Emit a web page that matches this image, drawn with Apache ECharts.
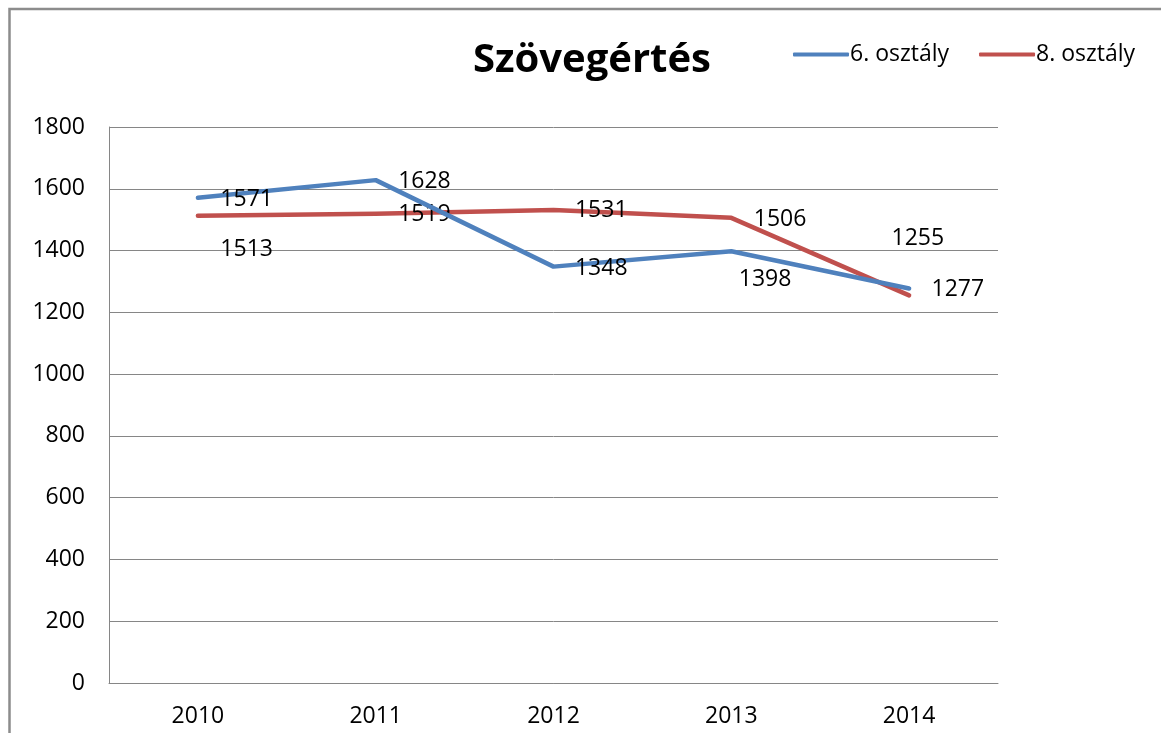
<!DOCTYPE html>
<html>
<head>
<meta charset="utf-8">
<script src="https://cdn.jsdelivr.net/npm/echarts@6/dist/echarts.min.js"></script>
<style>
html,body{margin:0;padding:0;background:#fff;}
#chart{width:1161px;height:733px;}
</style>
</head>
<body>
<div id="chart"></div>
<script>
const categories = ['2010', '2011', '2012', '2013', '2014'];
const grade6 = [1571, 1628, 1348, 1398, 1277];
const grade8 = [1513, 1519, 1531, 1506, 1255];
const seriesNames = ['6. osztály', '8. osztály'];
const titleText = 'Szövegértés';

// label placement relative to each point (style, not data)
const offsets6 = [[49, 2], [49, 2], [48, 2], [34, 29], [49, 1]];
const offsets8 = [[49, 34], [49, 1], [48, 1], [49, 2], [9, -57]];

const FONT = '"Open Sans", sans-serif';

function withLabels(values, offs) {
  return values.map((v, i) => ({
    value: v,
    label: { position: offs[i], align: 'center', verticalAlign: 'middle' }
  }));
}

const chart = echarts.init(document.getElementById('chart'), null, { renderer: 'canvas' });
chart.setOption({
  backgroundColor: '#fff',
  animation: false,
  title: {
    text: titleText,
    left: 587, top: 36, textAlign: 'center',
    textStyle: { fontFamily: FONT, fontSize: 40, fontWeight: 'bold', color: '#000' }
  },
  legend: {
    left: 788, top: 38,
    itemWidth: 56, itemHeight: 4, itemGap: 30,
    icon: 'roundRect',
    textStyle: { fontFamily: FONT, fontSize: 23, color: '#000', padding: [0, 0, 0, -4] },
    data: seriesNames
  },
  graphic: [{
    type: 'rect', silent: true,
    shape: { x: 9.5, y: 9, width: 1300, height: 900 },
    style: { fill: 'none', stroke: '#8c8c8c', lineWidth: 2.5 }
  }],
  grid: { left: 109, right: 163, top: 127, bottom: 50 },
  xAxis: {
    type: 'category', data: categories, boundaryGap: true,
    axisLine: { lineStyle: { color: '#868686', width: 1 } },
    axisTick: { show: false },
    axisLabel: { fontFamily: FONT, fontSize: 23, color: '#000', margin: 22 }
  },
  yAxis: {
    type: 'value', min: 0, max: 1800, interval: 200,
    axisLine: { show: true, lineStyle: { color: '#868686', width: 1 } },
    axisTick: { show: false },
    splitLine: { lineStyle: { color: '#868686', width: 1 } },
    axisLabel: { fontFamily: FONT, fontSize: 23, color: '#000', margin: 24, formatter: v => String(v) }
  },
  series: [
    {
      name: seriesNames[0], type: 'line', data: withLabels(grade6, offsets6),
      symbol: 'circle', symbolSize: 0.5, showSymbol: true,
      lineStyle: { color: '#4F81BD', width: 4.5, join: 'round', cap: 'round' },
      itemStyle: { color: '#4F81BD' },
      label: { show: true, fontFamily: FONT, fontSize: 23, color: '#000' },
      labelLayout: { hideOverlap: false },
      z: 3
    },
    {
      name: seriesNames[1], type: 'line', data: withLabels(grade8, offsets8),
      symbol: 'circle', symbolSize: 0.5, showSymbol: true,
      lineStyle: { color: '#C0504D', width: 4.5, join: 'round', cap: 'round' },
      itemStyle: { color: '#C0504D' },
      label: { show: true, fontFamily: FONT, fontSize: 23, color: '#000' },
      labelLayout: { hideOverlap: false },
      z: 2
    }
  ]
});
</script>
</body>
</html>
